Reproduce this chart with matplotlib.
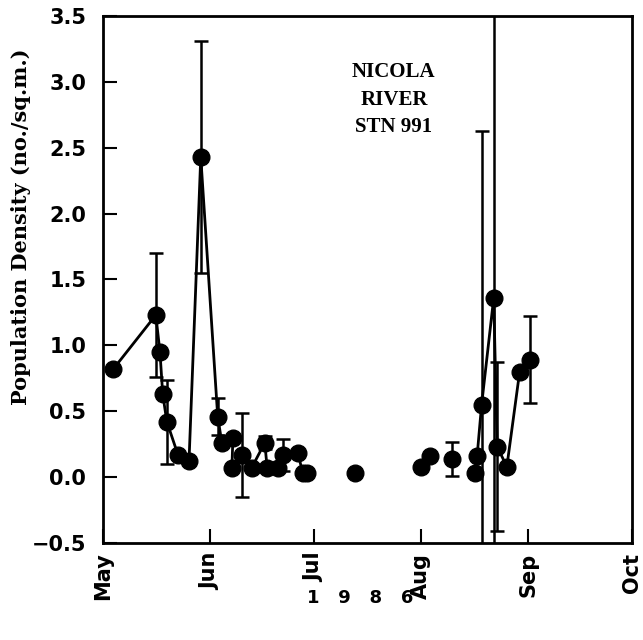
# Nicola River STN 991 - population density, 1986
import numpy as np
import matplotlib.pyplot as plt

# days counted from May 1 1986
days = [3.0, 15.3, 16.5, 17.3, 18.5, 21.7, 24.9, 28.3, 33.2, 34.4, 37.6, 37.3,
        40.2, 43.0, 46.8, 47.5, 50.5, 52.0, 56.4, 57.8, 59.0,
        73.0,
        91.9, 94.5,
        101.0,
        107.5, 108.2, 109.5, 113.0, 114.0, 116.8, 120.5, 123.4]
density = [0.82, 1.23, 0.95, 0.63, 0.42, 0.17, 0.12, 2.43, 0.46, 0.26, 0.30, 0.07,
           0.17, 0.07, 0.26, 0.07, 0.07, 0.17, 0.18, 0.03, 0.03,
           0.03,
           0.08, 0.16,
           0.14,
           0.03, 0.16, 0.55, 1.36, 0.23, 0.08, 0.80, 0.89]
sd = [0.0, 0.47, 0.0, 0.0, 0.32, 0.0, 0.0, 0.88, 0.14, 0.0, 0.0, 0.0,
      0.32, 0.0, 0.05, 0.0, 0.0, 0.12, 0.0, 0.0, 0.0,
      0.0,
      0.0, 0.0,
      0.13,
      0.0, 0.0, 2.08, 2.5, 0.64, 0.0, 0.0, 0.33]
# which points are joined by the line
group = [0] * 21 + [1] + [2, 2] + [3] + [4] * 8

month_days = [0, 31, 61, 92, 123, 153]
month_names = ['May', 'Jun', 'Jul', 'Aug', 'Sep', 'Oct']
yticks = [-0.5, 0.0, 0.5, 1.0, 1.5, 2.0, 2.5, 3.0, 3.5]

def main():
    fig = plt.figure(figsize=(6.43, 6.4), dpi=100)
    ax = fig.add_axes([0.160, 0.1516, 0.823, 0.8234])

    x = np.array(days)
    y = np.array(density)
    e = np.array(sd)
    g = np.array(group)
    for k in sorted(set(group)):
        m = g == k
        ax.plot(x[m], y[m], color='black', linewidth=2.0, zorder=2)
    m = e > 0
    ax.errorbar(x[m], y[m], yerr=e[m], fmt='none', ecolor='black',
                elinewidth=1.8, capsize=5, capthick=1.8, zorder=2)
    ax.plot(x, y, 'o', color='black', markersize=12, zorder=3)

    ax.set_xlim(0, 153)
    ax.set_ylim(-0.5, 3.5)
    ax.set_xticks(month_days)
    ax.set_xticklabels(month_names, rotation=90, fontsize=15, fontweight='bold')
    ax.set_yticks(yticks)
    ax.set_yticklabels([('%.1f' % v).replace('-', '\u2212') for v in yticks],
                       fontsize=15, fontweight='bold')
    ax.tick_params(direction='in', length=10, width=1.5)
    ax.tick_params(axis='x', pad=7)
    ax.tick_params(axis='y', pad=12)
    for s in ax.spines.values():
        s.set_linewidth(2)

    ax.set_ylabel('Population Density (no./sq.m.)', family='DejaVu Serif',
                  fontweight='bold', fontsize=15)
    ax.yaxis.set_label_coords(-0.136, 0.60)

    ax.text(0.55, 0.912, 'NICOLA\nRIVER\nSTN 991', transform=ax.transAxes,
            ha='center', va='top', family='Liberation Serif', fontweight='bold',
            fontsize=15, linespacing=1.5)
    fig.text(0.560, 0.065, '1   9   8   6', ha='center', va='center',
             fontsize=13, fontweight='bold')

    fig.savefig('out.png', dpi=100)

if __name__ == '__main__':
    main()
